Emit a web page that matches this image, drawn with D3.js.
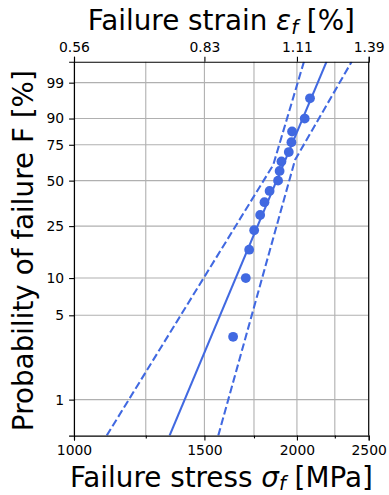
<!DOCTYPE html>
<html>
<head>
<meta charset="utf-8">
<script src="https://cdn.jsdelivr.net/npm/d3@7"></script>
<style>
  html, body { margin: 0; padding: 0; background: #fff; }
  svg { display: block; font-family: "DejaVu Sans", sans-serif; }
</style>
</head>
<body>
<svg id="chart" width="389" height="495"></svg>
<script>
// ---- data ----
const stress = [1640, 1706, 1724, 1751, 1784, 1808, 1837, 1886, 1895, 1906, 1950, 1966, 1970, 2049, 2083];
const probF  = [3.33, 10.0, 16.67, 23.33, 30.0, 36.67, 43.33, 50.0, 56.67, 63.33, 70.0, 76.67, 83.33, 90.0, 96.67];

const fitStress = [1346, 2193];
const fitF      = [0.5, 99.9];

const lowStress = [1107, 1858, 2044];
const lowF      = [0.5, 60.9, 99.9];
const uppStress = [1566, 1988, 2371];
const uppF      = [0.5, 64.4, 99.9];

const xTicks      = [1000, 1500, 2000, 2500];
const xMinorTicks = [1250, 1750, 2250];
const strainTickLabels = ["0.56", "0.83", "1.11", "1.39"];
const yTicks = [1, 5, 10, 25, 50, 75, 90, 99];

// ---- layout ----
const L = 74, R = 368.7, T = 61.7, B = 435.6;
const color = "#4169E1";
const svg = d3.select("#chart");
svg.append("rect").attr("width", 389).attr("height", 495).attr("fill", "#fff");

const weib = F => Math.log(-Math.log(1 - F / 100));
const x = d3.scaleLog().domain([1000, 2500]).range([L, R]);
const yLin = d3.scaleLinear().domain([weib(0.5), weib(99.9)]).range([B, T]);
const y = F => yLin(weib(F));

// ---- grid ----
const grid = svg.append("g").attr("stroke", "#b0b0b0").attr("stroke-width", 1.1);
xTicks.concat(xMinorTicks).forEach(v => {
  grid.append("line").attr("x1", x(v)).attr("x2", x(v)).attr("y1", T).attr("y2", B);
});
yTicks.forEach(v => {
  grid.append("line").attr("x1", L).attr("x2", R).attr("y1", y(v)).attr("y2", y(v));
});

// ---- lines ----
const clip = svg.append("clipPath").attr("id", "clip")
  .append("rect").attr("x", L).attr("y", T).attr("width", R - L).attr("height", B - T);
const plot = svg.append("g").attr("clip-path", "url(#clip)");
const line = d3.line().x(d => x(d[0])).y(d => y(d[1]));

plot.append("path").datum(d3.zip(fitStress, fitF)).attr("d", line)
  .attr("fill", "none").attr("stroke", color).attr("stroke-width", 2.08);
[[lowStress, lowF], [uppStress, uppF]].forEach(([s, f]) => {
  plot.append("path").datum(d3.zip(s, f)).attr("d", line)
    .attr("fill", "none").attr("stroke", color).attr("stroke-width", 2.08)
    .attr("stroke-dasharray", "7.7,3.3");
});

// ---- points ----
svg.append("g").selectAll("circle").data(d3.zip(stress, probF)).join("circle")
  .attr("cx", d => x(d[0])).attr("cy", d => y(d[1])).attr("r", 4.9)
  .attr("fill", color);

// ---- axes ----
const fs = 13.9;
const xAxisB = d3.axisBottom(x).tickValues(xTicks).tickFormat(d3.format("d"))
  .tickSizeOuter(0).tickSize(4.9).tickPadding(4.9);
const gB = svg.append("g").attr("transform", `translate(0,${B})`).call(xAxisB);
const xAxisBm = d3.axisBottom(x).tickValues(xMinorTicks).tickFormat("").tickSizeOuter(0).tickSize(2.8);
const gBm = svg.append("g").attr("transform", `translate(0,${B})`).call(xAxisBm);
gBm.select(".domain").remove();

const xAxisT = d3.axisTop(x).tickValues(xTicks).tickFormat((d, i) => strainTickLabels[i])
  .tickSizeOuter(0).tickSize(4.9).tickPadding(4.9);
const gT = svg.append("g").attr("transform", `translate(0,${T})`).call(xAxisT);

const yAxis = d3.axisLeft(yLin).tickValues(yTicks.map(weib)).tickFormat((d, i) => yTicks[i])
  .tickSizeOuter(0).tickSize(4.9).tickPadding(4.9);
const gL = svg.append("g").attr("transform", `translate(${L},0)`).call(yAxis);

svg.append("line").attr("x1", R).attr("x2", R).attr("y1", T).attr("y2", B)
  .attr("stroke", "#000").attr("stroke-width", 1.1);

[gB, gBm, gT, gL].forEach(g => {
  g.selectAll("text").attr("font-family", "DejaVu Sans").attr("font-size", fs).attr("fill", "#000");
  g.selectAll("line").attr("stroke", "#000").attr("stroke-width", 1.1);
  g.select(".domain").attr("stroke", "#000").attr("stroke-width", 1.1);
});

// ---- labels ----
const lfs = 27.8;
const xl = svg.append("text").attr("x", (L + R) / 2).attr("y", 487)
  .attr("text-anchor", "middle").attr("font-size", lfs).attr("fill", "#000");
xl.append("tspan").text("Failure stress ");
xl.append("tspan").attr("font-style", "italic").text("σ");
xl.append("tspan").attr("font-style", "italic").attr("font-size", lfs * 0.7).attr("dy", 3).text("f");
xl.append("tspan").attr("dy", -3).text(" [MPa]");

const tl = svg.append("text").attr("x", (L + R) / 2).attr("y", 29.5)
  .attr("text-anchor", "middle").attr("font-size", lfs).attr("fill", "#000");
tl.append("tspan").text("Failure strain ");
tl.append("tspan").attr("font-style", "italic").text("ε");
tl.append("tspan").attr("font-style", "italic").attr("font-size", lfs * 0.7).attr("dy", 4).text("f");
tl.append("tspan").attr("dy", -4).text(" [%]");

svg.append("text").attr("transform", `translate(33,${(T + B) / 2 + 2}) rotate(-90)`)
  .attr("text-anchor", "middle").attr("font-size", lfs).attr("fill", "#000")
  .text("Probability of failure F [%]");
</script>
</body>
</html>
